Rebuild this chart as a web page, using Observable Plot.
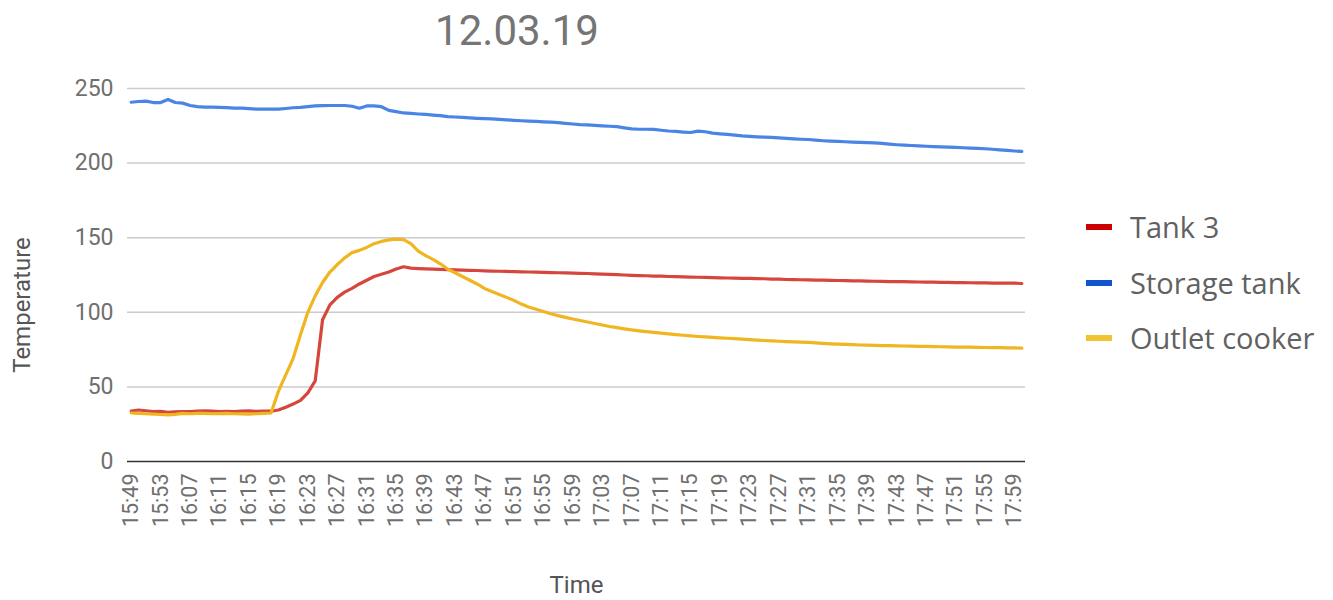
<!DOCTYPE html>
<html>
<head>
<meta charset="utf-8">
<script src="https://cdn.jsdelivr.net/npm/d3@7"></script>
<script src="https://cdn.jsdelivr.net/npm/@observablehq/plot@0.6"></script>
<style>
  html, body { margin: 0; padding: 0; background: #fff; }
  #wrap { position: relative; width: 1333px; height: 600px; overflow: hidden; font-family: Roboto, sans-serif; }
  #title { position: absolute; left: 0; top: 9px; width: 1034px; text-align: center; font-size: 42px; line-height: 44px; color: #757575; font-family: Roboto, sans-serif; }
  #legend { position: absolute; left: 1086px; top: 0; font-family: "Open Sans", sans-serif; }
  .item { position: absolute; left: 0; height: 30px; width: 260px; }
  .sw { position: absolute; left: 0; top: 12px; width: 26px; height: 6px; }
  .lab { position: absolute; left: 44px; top: 0; font-size: 29px; line-height: 30px; color: #616161; white-space: nowrap; }
  svg { position: absolute; left: 0; top: 0; }
</style>
</head>
<body>
<div id="wrap">
  <div id="chart"></div>
  <div id="title">12.03.19</div>
  <div id="legend"></div>
</div>
<script>
const times = [
  "15:49","15:50","15:51","15:52","15:53","15:54","16:05","16:06",
  "16:07","16:08","16:09","16:10","16:11","16:12","16:13","16:14","16:15","16:16","16:17","16:18","16:19",
  "16:20","16:21","16:22","16:23","16:24","16:25","16:26","16:27","16:28","16:29","16:30","16:31","16:32",
  "16:33","16:34","16:35","16:36","16:37","16:38","16:39","16:40","16:41","16:42","16:43","16:44","16:45",
  "16:46","16:47","16:48","16:49","16:50","16:51","16:52","16:53","16:54","16:55","16:56","16:57","16:58","16:59",
  "17:00","17:01","17:02","17:03","17:04","17:05","17:06","17:07","17:08","17:09","17:10","17:11","17:12",
  "17:13","17:14","17:15","17:16","17:17","17:18","17:19","17:20","17:21","17:22","17:23","17:24","17:25",
  "17:26","17:27","17:28","17:29","17:30","17:31","17:32","17:33","17:34","17:35","17:36","17:37","17:38",
  "17:39","17:40","17:41","17:42","17:43","17:44","17:45","17:46","17:47","17:48","17:49","17:50","17:51",
  "17:52","17:53","17:54","17:55","17:56","17:57","17:58","17:59","18:00"
];

const tickLabels = [
  "15:49","15:53","16:07","16:11","16:15","16:19","16:23","16:27","16:31","16:35","16:39","16:43","16:47",
  "16:51","16:55","16:59","17:03","17:07","17:11","17:15","17:19","17:23","17:27","17:31","17:35","17:39",
  "17:43","17:47","17:51","17:55","17:59"
];

const yTicks = [0, 50, 100, 150, 200, 250];

const seriesNames = ["Tank 3", "Storage tank", "Outlet cooker"];
const lineColors = ["#d5473d", "#4a84e4", "#f0b622"];
const legendColors = ["#cc0000", "#1155cc", "#f1c232"];

const tank3 = [
  33.8,34.5,34.0,33.4,33.6,33.0,33.3,33.5,33.4,33.8,33.9,33.7,33.5,33.6,33.4,33.7,33.9,33.6,33.8,33.7,
  34.5,36.4,38.5,41.0,46.0,54.0,95.0,105.0,110.0,113.5,116.0,119.0,121.5,124.0,125.5,127.0,129.0,130.5,129.6,129.3,
  129.1,129.0,128.8,128.6,128.4,128.3,128.1,128.0,127.8,127.6,127.5,127.4,127.2,127.1,127.0,126.9,126.8,126.6,126.5,126.4,
  126.3,126.1,126.0,125.8,125.6,125.4,125.2,125.0,124.8,124.6,124.5,124.3,124.2,124.0,123.9,123.8,123.6,123.5,123.4,123.2,
  123.1,123.0,122.9,122.8,122.7,122.6,122.5,122.3,122.2,122.0,121.9,121.8,121.7,121.6,121.5,121.4,121.3,121.2,121.1,121.0,
  120.9,120.8,120.7,120.6,120.6,120.5,120.4,120.3,120.2,120.2,120.1,120.0,119.9,119.9,119.8,119.7,119.7,119.6,119.6,119.5,
  119.5,119.3
];

const storageTank = [
  240.8,241.3,241.5,240.6,240.6,242.6,240.6,240.2,238.6,237.8,237.5,237.5,237.4,237.2,236.9,236.8,236.5,236.2,236.2,236.2,
  236.2,236.6,237.1,237.4,237.9,238.3,238.5,238.6,238.6,238.6,238.1,236.8,238.3,238.3,237.8,235.3,234.5,233.6,233.3,232.9,
  232.6,232.2,231.8,231.2,230.9,230.6,230.3,230.0,229.8,229.6,229.3,229.0,228.7,228.4,228.1,227.9,227.6,227.4,227.1,226.6,
  226.2,225.8,225.6,225.3,225.0,224.7,224.4,223.6,222.9,222.7,222.7,222.6,222.0,221.5,221.2,220.8,220.5,221.4,221.0,220.1,
  219.6,219.2,218.7,218.2,217.9,217.6,217.4,217.2,216.9,216.6,216.3,216.0,215.8,215.4,215.0,214.7,214.5,214.3,214.1,213.9,
  213.7,213.6,213.2,212.7,212.3,212.0,211.8,211.5,211.3,211.1,210.9,210.7,210.5,210.3,210.1,209.9,209.6,209.3,208.9,208.5,
  208.1,207.8
];

const outletCooker = [
  32.5,32.3,32.0,31.8,31.5,31.3,31.6,32.2,32.0,32.2,32.3,32.0,32.1,32.2,32.0,31.9,31.8,32.0,32.3,32.5,
  47.0,58.0,69.0,85.0,100.0,111.0,120.0,127.0,132.0,136.5,140.0,141.5,143.5,146.0,147.5,148.5,149.0,148.7,146.0,141.0,
  138.0,135.5,132.5,129.0,126.5,124.0,121.5,119.0,116.0,114.0,112.0,110.0,108.0,105.5,103.5,102.0,100.5,99.0,97.8,96.6,
  95.5,94.5,93.5,92.5,91.5,90.5,89.7,88.9,88.2,87.6,87.0,86.5,86.0,85.5,85.0,84.6,84.2,83.8,83.5,83.2,
  82.9,82.6,82.3,82.0,81.7,81.4,81.1,80.9,80.6,80.4,80.2,80.0,79.8,79.5,79.2,78.9,78.7,78.5,78.3,78.1,
  78.0,77.8,77.7,77.6,77.5,77.4,77.3,77.2,77.1,77.0,76.9,76.8,76.7,76.6,76.6,76.5,76.4,76.3,76.3,76.2,
  76.1,76.0
];

const seriesValues = [tank3, storageTank, outletCooker];
const data = seriesNames.flatMap((name, s) =>
  times.map((t, i) => ({time: t, value: seriesValues[s][i], series: name}))
);

const chart = Plot.plot({
  width: 1333,
  height: 600,
  marginTop: 88,
  marginBottom: 139,
  marginLeft: 127,
  marginRight: 308,
  style: {fontFamily: "Roboto, sans-serif", fontSize: "22px", color: "#6f6f6f", background: "transparent", overflow: "visible"},
  x: {type: "point", domain: times, padding: 0.5, label: null},
  y: {domain: [0, 250], label: null},
  color: {domain: seriesNames, range: lineColors},
  marks: [
    Plot.gridY(yTicks.filter(d => d !== 0), {stroke: "#cccccc", strokeOpacity: 1, strokeWidth: 1.5}),
    Plot.ruleY([0], {stroke: "#333333", strokeWidth: 1.5}),
    Plot.axisY(yTicks, {tickSize: 0, tickPadding: 14, fontSize: 23, label: null}),
    Plot.axisX(tickLabels, {tickSize: 0, tickPadding: 12, tickRotate: -90, fontSize: 21.5, label: null}),
    Plot.line(data, {x: "time", y: "value", z: "series", stroke: "series", strokeWidth: 3.2, strokeLinejoin: "round"}),
    Plot.text(["Time"], {frameAnchor: "bottom", lineAnchor: "middle", dy: 124, fontSize: 24, fill: "#555555"}),
    Plot.text(["Temperature"], {frameAnchor: "left", textAnchor: "middle", lineAnchor: "middle", rotate: -90, dx: -105, dy: 30, fontSize: 24, fill: "#555555"})
  ]
});
document.getElementById("chart").appendChild(chart);

const legend = document.getElementById("legend");
const legendY = [212, 268, 323];
seriesNames.forEach((name, i) => {
  const item = document.createElement("div");
  item.className = "item";
  item.style.top = legendY[i] + "px";
  const sw = document.createElement("div");
  sw.className = "sw";
  sw.style.background = legendColors[i];
  const lab = document.createElement("div");
  lab.className = "lab";
  lab.textContent = name;
  item.appendChild(sw);
  item.appendChild(lab);
  legend.appendChild(item);
});
</script>
</body>
</html>
